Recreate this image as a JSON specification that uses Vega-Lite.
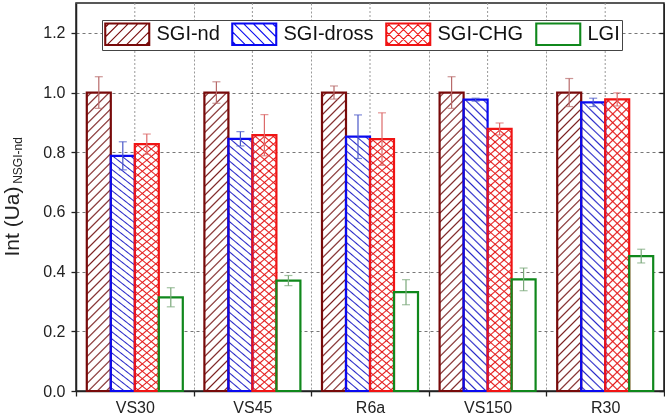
{
 "$schema": "https://vega.github.io/schema/vega-lite/v6.json",
 "width": 588, "height": 388,
 "autosize": {"type": "none"},
 "padding": {"left": 76, "top": 3, "right": 1, "bottom": 26},
 "background": "white",
 "config": {"font": "Liberation Sans", "view": {"stroke": "#222", "strokeWidth": 1.5}},
 "data": {"values": [
  {"cat":"VS30","series":"SGI-nd","v":1.0,"lo":0.947,"hi":1.053},
  {"cat":"VS30","series":"SGI-dross","v":0.788,"lo":0.741,"hi":0.835},
  {"cat":"VS30","series":"SGI-CHG","v":0.827,"lo":0.793,"hi":0.861},
  {"cat":"VS30","series":"LGI","v":0.314,"lo":0.282,"hi":0.346},
  {"cat":"VS45","series":"SGI-nd","v":1.0,"lo":0.964,"hi":1.036},
  {"cat":"VS45","series":"SGI-dross","v":0.845,"lo":0.821,"hi":0.869},
  {"cat":"VS45","series":"SGI-CHG","v":0.857,"lo":0.788,"hi":0.926},
  {"cat":"VS45","series":"LGI","v":0.37,"lo":0.353,"hi":0.387},
  {"cat":"R6a","series":"SGI-nd","v":1.0,"lo":0.978,"hi":1.022},
  {"cat":"R6a","series":"SGI-dross","v":0.852,"lo":0.779,"hi":0.925},
  {"cat":"R6a","series":"SGI-CHG","v":0.844,"lo":0.756,"hi":0.932},
  {"cat":"R6a","series":"LGI","v":0.331,"lo":0.289,"hi":0.373},
  {"cat":"VS150","series":"SGI-nd","v":1.0,"lo":0.947,"hi":1.053},
  {"cat":"VS150","series":"SGI-dross","v":0.976,"lo":0.971,"hi":0.981},
  {"cat":"VS150","series":"SGI-CHG","v":0.878,"lo":0.858,"hi":0.898},
  {"cat":"VS150","series":"LGI","v":0.374,"lo":0.336,"hi":0.412},
  {"cat":"R30","series":"SGI-nd","v":1.0,"lo":0.953,"hi":1.047},
  {"cat":"R30","series":"SGI-dross","v":0.967,"lo":0.953,"hi":0.981},
  {"cat":"R30","series":"SGI-CHG","v":0.977,"lo":0.955,"hi":0.999},
  {"cat":"R30","series":"LGI","v":0.452,"lo":0.429,"hi":0.475}
 ]},
 "resolve": {"axis": {"y": "independent"}},
 "layer": [
  {
   "layer": [
    {
     "transform": [{"filter": "datum.series === 'SGI-nd'"}],
     "mark": {"type": "rule", "color": "#999", "strokeDash": [2, 2], "strokeWidth": 1},
     "encoding": {
      "x": {"field": "cat", "type": "nominal", "scale": {"domain": ["VS30","VS45","R6a","VS150","R30"], "paddingInner": 0, "paddingOuter": 0},
       "axis": {"title": null, "labelAngle": 0, "labelFontSize": 16, "labelFont": "Liberation Sans", "labelColor": "#222", "labelPadding": 3, "tickBand": "extent", "tickSize": 5, "tickColor": "#222", "tickWidth": 1.3, "domainColor": "#222", "domainWidth": 1.5, "grid": true, "gridColor": "#999", "gridDash": [2, 2]}}
     }
    },
    {
     "mark": {"type": "bar", "fill": "white"},
     "encoding": {
      "x": {"field": "cat", "type": "nominal", "scale": {"domain": ["VS30","VS45","R6a","VS150","R30"], "paddingInner": 0, "paddingOuter": 0}},
      "xOffset": {"field": "series", "scale": {"domain": ["SGI-nd","SGI-dross","SGI-CHG","LGI"], "paddingInner": 0, "paddingOuter": 0.45}},
      "y": {"field": "v", "type": "quantitative", "scale": {"domain": [0, 1.3], "nice": false},
       "axis": {"values": [0,0.1,0.2,0.3,0.4,0.5,0.6,0.7,0.8,0.9,1.0,1.1,1.2],
        "labelExpr": "round(datum.value*10) % 2 === 0 ? format(datum.value, '.1f') : ''",
        "labelFontSize": 16, "labelFont": "Liberation Sans", "labelColor": "#222", "labelPadding": 6,
        "tickSize": 5, "tickColor": "#222", "tickWidth": 1.3,
        "tickOpacity": {"condition": {"test": "round(datum.value*10) % 2 === 0", "value": 1}, "value": 0},
        "domainColor": "#222", "domainWidth": 1.5,
        "grid": true,
        "gridColor": {"condition": {"test": "round(datum.value*10) % 2 === 0", "value": "#777"}, "value": "#aaa"},
        "gridDash": {"condition": {"test": "round(datum.value*10) % 2 === 0", "value": [3, 3]}, "value": [1, 2]},
        "title": "Int (Ua)", "titleFontSize": 21, "titleFont": "Liberation Sans", "titleFontWeight": "normal", "titleColor": "#222",
        "titleAngle": 270, "titleX": -54, "titleY": 218, "titleAlign": "center", "titleBaseline": "bottom"}}
     }
    },
    {
     "transform": [{"filter": "datum.series === 'SGI-nd' || datum.series === 'SGI-CHG'"}],
     "mark": {"type": "bar", "fill": {"gradient": "linear", "x1": 0, "y1": 0, "x2": 0.0863, "y2": 1.0734, "stops": [
{"offset":0.0089,"color":"transparent"},{"offset":0.0139,"color":"#000"},{"offset":0.0189,"color":"transparent"},
{"offset":0.0367,"color":"transparent"},{"offset":0.0417,"color":"#000"},{"offset":0.0467,"color":"transparent"},
{"offset":0.0644,"color":"transparent"},{"offset":0.0694,"color":"#000"},{"offset":0.0744,"color":"transparent"},
{"offset":0.0922,"color":"transparent"},{"offset":0.0972,"color":"#000"},{"offset":0.1022,"color":"transparent"},
{"offset":0.12,"color":"transparent"},{"offset":0.125,"color":"#000"},{"offset":0.13,"color":"transparent"},
{"offset":0.1478,"color":"transparent"},{"offset":0.1528,"color":"#000"},{"offset":0.1578,"color":"transparent"},
{"offset":0.1756,"color":"transparent"},{"offset":0.1806,"color":"#000"},{"offset":0.1856,"color":"transparent"},
{"offset":0.2033,"color":"transparent"},{"offset":0.2083,"color":"#000"},{"offset":0.2133,"color":"transparent"},
{"offset":0.2311,"color":"transparent"},{"offset":0.2361,"color":"#000"},{"offset":0.2411,"color":"transparent"},
{"offset":0.2589,"color":"transparent"},{"offset":0.2639,"color":"#000"},{"offset":0.2689,"color":"transparent"},
{"offset":0.2867,"color":"transparent"},{"offset":0.2917,"color":"#000"},{"offset":0.2967,"color":"transparent"},
{"offset":0.3144,"color":"transparent"},{"offset":0.3194,"color":"#000"},{"offset":0.3244,"color":"transparent"},
{"offset":0.3422,"color":"transparent"},{"offset":0.3472,"color":"#000"},{"offset":0.3522,"color":"transparent"},
{"offset":0.37,"color":"transparent"},{"offset":0.375,"color":"#000"},{"offset":0.38,"color":"transparent"},
{"offset":0.3978,"color":"transparent"},{"offset":0.4028,"color":"#000"},{"offset":0.4078,"color":"transparent"},
{"offset":0.4256,"color":"transparent"},{"offset":0.4306,"color":"#000"},{"offset":0.4356,"color":"transparent"},
{"offset":0.4533,"color":"transparent"},{"offset":0.4583,"color":"#000"},{"offset":0.4633,"color":"transparent"},
{"offset":0.4811,"color":"transparent"},{"offset":0.4861,"color":"#000"},{"offset":0.4911,"color":"transparent"},
{"offset":0.5089,"color":"transparent"},{"offset":0.5139,"color":"#000"},{"offset":0.5189,"color":"transparent"},
{"offset":0.5367,"color":"transparent"},{"offset":0.5417,"color":"#000"},{"offset":0.5467,"color":"transparent"},
{"offset":0.5644,"color":"transparent"},{"offset":0.5694,"color":"#000"},{"offset":0.5744,"color":"transparent"},
{"offset":0.5922,"color":"transparent"},{"offset":0.5972,"color":"#000"},{"offset":0.6022,"color":"transparent"},
{"offset":0.62,"color":"transparent"},{"offset":0.625,"color":"#000"},{"offset":0.63,"color":"transparent"},
{"offset":0.6478,"color":"transparent"},{"offset":0.6528,"color":"#000"},{"offset":0.6578,"color":"transparent"},
{"offset":0.6756,"color":"transparent"},{"offset":0.6806,"color":"#000"},{"offset":0.6856,"color":"transparent"},
{"offset":0.7033,"color":"transparent"},{"offset":0.7083,"color":"#000"},{"offset":0.7133,"color":"transparent"},
{"offset":0.7311,"color":"transparent"},{"offset":0.7361,"color":"#000"},{"offset":0.7411,"color":"transparent"},
{"offset":0.7589,"color":"transparent"},{"offset":0.7639,"color":"#000"},{"offset":0.7689,"color":"transparent"},
{"offset":0.7867,"color":"transparent"},{"offset":0.7917,"color":"#000"},{"offset":0.7967,"color":"transparent"},
{"offset":0.8144,"color":"transparent"},{"offset":0.8194,"color":"#000"},{"offset":0.8244,"color":"transparent"},
{"offset":0.8422,"color":"transparent"},{"offset":0.8472,"color":"#000"},{"offset":0.8522,"color":"transparent"},
{"offset":0.87,"color":"transparent"},{"offset":0.875,"color":"#000"},{"offset":0.88,"color":"transparent"},
{"offset":0.8978,"color":"transparent"},{"offset":0.9028,"color":"#000"},{"offset":0.9078,"color":"transparent"},
{"offset":0.9256,"color":"transparent"},{"offset":0.9306,"color":"#000"},{"offset":0.9356,"color":"transparent"},
{"offset":0.9533,"color":"transparent"},{"offset":0.9583,"color":"#000"},{"offset":0.9633,"color":"transparent"},
{"offset":0.9811,"color":"transparent"},{"offset":0.9861,"color":"#000"},{"offset":0.9911,"color":"transparent"}
     ]}},
     "encoding": {
      "x": {"field": "cat", "type": "nominal", "scale": {"domain": ["VS30","VS45","R6a","VS150","R30"], "paddingInner": 0, "paddingOuter": 0}},
      "xOffset": {"field": "series", "scale": {"domain": ["SGI-nd","SGI-dross","SGI-CHG","LGI"], "paddingInner": 0, "paddingOuter": 0.45}},
      "y": {"field": "v", "type": "quantitative", "scale": {"domain": [0, 1.3], "nice": false}}
     }
    },
    {
     "transform": [{"filter": "datum.series === 'SGI-dross' || datum.series === 'SGI-CHG'"}],
     "mark": {"type": "bar", "fill": {"gradient": "linear", "x1": 1, "y1": 0, "x2": 0.9137, "y2": 1.0734, "stops": [
{"offset":0.0089,"color":"transparent"},{"offset":0.0139,"color":"#000"},{"offset":0.0189,"color":"transparent"},
{"offset":0.0367,"color":"transparent"},{"offset":0.0417,"color":"#000"},{"offset":0.0467,"color":"transparent"},
{"offset":0.0644,"color":"transparent"},{"offset":0.0694,"color":"#000"},{"offset":0.0744,"color":"transparent"},
{"offset":0.0922,"color":"transparent"},{"offset":0.0972,"color":"#000"},{"offset":0.1022,"color":"transparent"},
{"offset":0.12,"color":"transparent"},{"offset":0.125,"color":"#000"},{"offset":0.13,"color":"transparent"},
{"offset":0.1478,"color":"transparent"},{"offset":0.1528,"color":"#000"},{"offset":0.1578,"color":"transparent"},
{"offset":0.1756,"color":"transparent"},{"offset":0.1806,"color":"#000"},{"offset":0.1856,"color":"transparent"},
{"offset":0.2033,"color":"transparent"},{"offset":0.2083,"color":"#000"},{"offset":0.2133,"color":"transparent"},
{"offset":0.2311,"color":"transparent"},{"offset":0.2361,"color":"#000"},{"offset":0.2411,"color":"transparent"},
{"offset":0.2589,"color":"transparent"},{"offset":0.2639,"color":"#000"},{"offset":0.2689,"color":"transparent"},
{"offset":0.2867,"color":"transparent"},{"offset":0.2917,"color":"#000"},{"offset":0.2967,"color":"transparent"},
{"offset":0.3144,"color":"transparent"},{"offset":0.3194,"color":"#000"},{"offset":0.3244,"color":"transparent"},
{"offset":0.3422,"color":"transparent"},{"offset":0.3472,"color":"#000"},{"offset":0.3522,"color":"transparent"},
{"offset":0.37,"color":"transparent"},{"offset":0.375,"color":"#000"},{"offset":0.38,"color":"transparent"},
{"offset":0.3978,"color":"transparent"},{"offset":0.4028,"color":"#000"},{"offset":0.4078,"color":"transparent"},
{"offset":0.4256,"color":"transparent"},{"offset":0.4306,"color":"#000"},{"offset":0.4356,"color":"transparent"},
{"offset":0.4533,"color":"transparent"},{"offset":0.4583,"color":"#000"},{"offset":0.4633,"color":"transparent"},
{"offset":0.4811,"color":"transparent"},{"offset":0.4861,"color":"#000"},{"offset":0.4911,"color":"transparent"},
{"offset":0.5089,"color":"transparent"},{"offset":0.5139,"color":"#000"},{"offset":0.5189,"color":"transparent"},
{"offset":0.5367,"color":"transparent"},{"offset":0.5417,"color":"#000"},{"offset":0.5467,"color":"transparent"},
{"offset":0.5644,"color":"transparent"},{"offset":0.5694,"color":"#000"},{"offset":0.5744,"color":"transparent"},
{"offset":0.5922,"color":"transparent"},{"offset":0.5972,"color":"#000"},{"offset":0.6022,"color":"transparent"},
{"offset":0.62,"color":"transparent"},{"offset":0.625,"color":"#000"},{"offset":0.63,"color":"transparent"},
{"offset":0.6478,"color":"transparent"},{"offset":0.6528,"color":"#000"},{"offset":0.6578,"color":"transparent"},
{"offset":0.6756,"color":"transparent"},{"offset":0.6806,"color":"#000"},{"offset":0.6856,"color":"transparent"},
{"offset":0.7033,"color":"transparent"},{"offset":0.7083,"color":"#000"},{"offset":0.7133,"color":"transparent"},
{"offset":0.7311,"color":"transparent"},{"offset":0.7361,"color":"#000"},{"offset":0.7411,"color":"transparent"},
{"offset":0.7589,"color":"transparent"},{"offset":0.7639,"color":"#000"},{"offset":0.7689,"color":"transparent"},
{"offset":0.7867,"color":"transparent"},{"offset":0.7917,"color":"#000"},{"offset":0.7967,"color":"transparent"},
{"offset":0.8144,"color":"transparent"},{"offset":0.8194,"color":"#000"},{"offset":0.8244,"color":"transparent"},
{"offset":0.8422,"color":"transparent"},{"offset":0.8472,"color":"#000"},{"offset":0.8522,"color":"transparent"},
{"offset":0.87,"color":"transparent"},{"offset":0.875,"color":"#000"},{"offset":0.88,"color":"transparent"},
{"offset":0.8978,"color":"transparent"},{"offset":0.9028,"color":"#000"},{"offset":0.9078,"color":"transparent"},
{"offset":0.9256,"color":"transparent"},{"offset":0.9306,"color":"#000"},{"offset":0.9356,"color":"transparent"},
{"offset":0.9533,"color":"transparent"},{"offset":0.9583,"color":"#000"},{"offset":0.9633,"color":"transparent"},
{"offset":0.9811,"color":"transparent"},{"offset":0.9861,"color":"#000"},{"offset":0.9911,"color":"transparent"}
     ]}},
     "encoding": {
      "x": {"field": "cat", "type": "nominal", "scale": {"domain": ["VS30","VS45","R6a","VS150","R30"], "paddingInner": 0, "paddingOuter": 0}},
      "xOffset": {"field": "series", "scale": {"domain": ["SGI-nd","SGI-dross","SGI-CHG","LGI"], "paddingInner": 0, "paddingOuter": 0.45}},
      "y": {"field": "v", "type": "quantitative", "scale": {"domain": [0, 1.3], "nice": false}}
     }
    },
    {
     "transform": [{"filter": "datum.series !== 'LGI'"}],
     "mark": {"type": "bar", "blend": "screen"},
     "encoding": {
      "x": {"field": "cat", "type": "nominal", "scale": {"domain": ["VS30","VS45","R6a","VS150","R30"], "paddingInner": 0, "paddingOuter": 0}},
      "xOffset": {"field": "series", "scale": {"domain": ["SGI-nd","SGI-dross","SGI-CHG","LGI"], "paddingInner": 0, "paddingOuter": 0.45}},
      "y": {"field": "v", "type": "quantitative", "scale": {"domain": [0, 1.3], "nice": false}},
      "fill": {"field": "series", "type": "nominal",
       "scale": {"domain": ["SGI-nd","SGI-dross","SGI-CHG"], "range": ["#7B2020","#2626C8","#E41A1A"]},
       "legend": null}
     }
    },
    {
     "mark": {"type": "bar", "fill": "transparent"},
     "encoding": {
      "x": {"field": "cat", "type": "nominal", "scale": {"domain": ["VS30","VS45","R6a","VS150","R30"], "paddingInner": 0, "paddingOuter": 0}},
      "xOffset": {"field": "series", "scale": {"domain": ["SGI-nd","SGI-dross","SGI-CHG","LGI"], "paddingInner": 0, "paddingOuter": 0.45}},
      "y": {"field": "v", "type": "quantitative", "scale": {"domain": [0, 1.3], "nice": false}},
      "strokeWidth": {"value": 2.2},
      "stroke": {"field": "series", "type": "nominal",
       "scale": {"domain": ["SGI-nd","SGI-dross","SGI-CHG","LGI"], "range": ["#780A0A","#0A0AF0","#F01414","#10881C"]},
       "legend": {"orient": "none", "legendX": 26, "legendY": 17, "direction": "horizontal", "columns": 4, "title": null,
        "symbolSize": 506.25, "symbolStrokeWidth": 1.1, "symbolOpacity": 1, "symbolFillColor": "white",
        "labelFontSize": 20, "labelFont": "Liberation Sans", "labelColor": "#111", "labelOffset": 28.5,
        "columnPadding": 9, "padding": 2, "strokeColor": "#444", "fillColor": "white"}}
     }
    },
    {
     "transform": [{"filter": "false"}],
     "mark": {"type": "point", "filled": false},
     "encoding": {
      "shape": {"field": "series", "type": "nominal", "scale": {"domain": ["SGI-nd","SGI-dross","SGI-CHG","LGI"], "range": [
        "M-1,-1H3V1H-1Z M-0.911,-0.911H2.911V0.911H-0.911Z M-1,-0.5714L-0.5714,-1 M-1,0.2857L0.2857,-1 M-0.8571,1L1.1429,-1 M0,1L2,-1 M0.8571,1L2.8571,-1 M1.7143,1L3,-0.2857 M2.5714,1L3,0.5714",
        "M-1,-1H3V1H-1Z M-0.911,-0.911H2.911V0.911H-0.911Z M2.5714,-1L3,-0.5714 M1.7142,-1L3,0.2858 M0.8572,-1L2.8572,1 M0,-1L2,1 M-0.8572,-1L1.1428,1 M-1,-0.2858L0.2858,1 M-1,0.5714L-0.5714,1",
        "M-1,-1H3V1H-1Z M-0.911,-0.911H2.911V0.911H-0.911Z M-1,-0.5714L-0.5714,-1 M-1,0.2857L0.2857,-1 M-0.8571,1L1.1429,-1 M0,1L2,-1 M0.8571,1L2.8571,-1 M1.7143,1L3,-0.2857 M2.5714,1L3,0.5714 M2.5714,-1L3,-0.5714 M1.7142,-1L3,0.2858 M0.8572,-1L2.8572,1 M0,-1L2,1 M-0.8572,-1L1.1428,1 M-1,-0.2858L0.2858,1 M-1,0.5714L-0.5714,1",
        "M-1,-1H3V1H-1Z M-0.911,-0.911H2.911V0.911H-0.911Z"]}}
     }
    }
   ]
  },
  {
   "layer": [
    {
     "mark": {"type": "rule", "strokeWidth": 1.2},
     "encoding": {
      "x": {"field": "cat", "type": "nominal", "scale": {"domain": ["VS30","VS45","R6a","VS150","R30"], "paddingInner": 0, "paddingOuter": 0}},
      "xOffset": {"field": "series", "scale": {"domain": ["SGI-nd","SGI-dross","SGI-CHG","LGI"], "paddingInner": 0, "paddingOuter": 0.45}},
      "y": {"field": "lo", "type": "quantitative", "scale": {"domain": [0, 1.3], "nice": false},
       "axis": {"orient": "right", "values": [0,0.2,0.4,0.6,0.8,1.0,1.2], "labels": false, "tickSize": -5, "tickColor": "#222", "tickWidth": 1.3,
        "domainColor": "#222", "domainWidth": 1.5, "grid": false,
        "title": "NSGI-nd", "titleFontSize": 12, "titleFont": "Liberation Sans", "titleFontWeight": "normal", "titleColor": "#222",
        "titleAngle": 270, "titleX": -640, "titleY": 157, "titleAlign": "center", "titleBaseline": "bottom"}},
      "y2": {"field": "hi"},
      "color": {"field": "series", "type": "nominal", "scale": {"domain": ["LGI","SGI-CHG","SGI-dross","SGI-nd"], "range": ["#7AA87A","#DC6A6A","#4A58C8","#B86A6A"]}, "legend": null}
     }
    },
    {
     "mark": {"type": "tick", "size": 8, "thickness": 1.2},
     "encoding": {
      "x": {"field": "cat", "type": "nominal", "scale": {"domain": ["VS30","VS45","R6a","VS150","R30"], "paddingInner": 0, "paddingOuter": 0}},
      "xOffset": {"field": "series", "scale": {"domain": ["SGI-nd","SGI-dross","SGI-CHG","LGI"], "paddingInner": 0, "paddingOuter": 0.45}},
      "y": {"field": "hi", "type": "quantitative"},
      "color": {"field": "series", "type": "nominal", "legend": null}
     }
    },
    {
     "mark": {"type": "tick", "size": 8, "thickness": 1.2},
     "encoding": {
      "x": {"field": "cat", "type": "nominal", "scale": {"domain": ["VS30","VS45","R6a","VS150","R30"], "paddingInner": 0, "paddingOuter": 0}},
      "xOffset": {"field": "series", "scale": {"domain": ["SGI-nd","SGI-dross","SGI-CHG","LGI"], "paddingInner": 0, "paddingOuter": 0.45}},
      "y": {"field": "lo", "type": "quantitative"},
      "color": {"field": "series", "type": "nominal", "legend": null}
     }
    }
   ]
  }
 ]
}
